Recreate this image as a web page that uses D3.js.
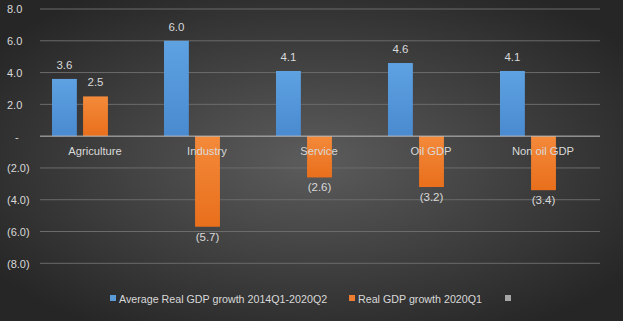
<!DOCTYPE html>
<html><head><meta charset="utf-8">
<script src="https://cdn.jsdelivr.net/npm/d3@7"></script>
<style>html,body{margin:0;padding:0;background:#333;}svg{display:block;}</style>
</head><body>
<script>
const categories = ["Agriculture","Industry","Service","Oil GDP","Non oil GDP"];
const avgGrowth = [3.6, 6.0, 4.1, 4.6, 4.1];
const growth2020Q1 = [2.5, -5.7, -2.6, -3.2, -3.4];
const emptySeries = [null, null, null, null, null];
const seriesNames = ["Average Real GDP growth 2014Q1-2020Q2", "Real GDP growth 2020Q1", ""];
const tickValues = [8, 6, 4, 2, 0, -2, -4, -6, -8];

const W = 623, H = 321;
const FONT = "'Liberation Sans', Arial, sans-serif";
const svg = d3.select("body").append("svg").attr("width", W).attr("height", H);
const defs = svg.append("defs");
const bg = defs.append("radialGradient").attr("id","bg").attr("cx","50%").attr("cy","50%").attr("r","62%");
bg.append("stop").attr("offset","0%").attr("stop-color","#5c5c5c");
bg.append("stop").attr("offset","100%").attr("stop-color","#262626");
const gb = defs.append("linearGradient").attr("id","gBlue").attr("x1","0").attr("x2","0").attr("y1","0").attr("y2","1");
gb.append("stop").attr("offset","0%").attr("stop-color","#5ea2e2");
gb.append("stop").attr("offset","100%").attr("stop-color","#4a8ad0");
const go = defs.append("linearGradient").attr("id","gOrange").attr("x1","0").attr("x2","0").attr("y1","0").attr("y2","1");
go.append("stop").attr("offset","0%").attr("stop-color","#f38a3a");
go.append("stop").attr("offset","100%").attr("stop-color","#e96f1c");

svg.append("rect").attr("width",W).attr("height",H).attr("fill","url(#bg)");

const x0 = d3.scaleBand().domain(categories).range([40, 600]).paddingInner(0).paddingOuter(0);
const seriesIdx = [0,1,2];
const x1 = d3.scaleBand().domain(seriesIdx).range([12, 99]).paddingInner(0.2).paddingOuter(0);
const y = d3.scaleLinear().domain([-8, 8]).range([263.3, 9]);

// gridlines
svg.append("g").selectAll("line").data(tickValues.filter(d=>d!==0)).join("line")
  .attr("x1",40).attr("x2",600).attr("y1",d=>y(d)).attr("y2",d=>y(d))
  .attr("stroke","#6b6b6b").attr("stroke-width",1);

const fmt = v => v === 0 ? "-" : (v < 0 ? "(" + Math.abs(v).toFixed(1) + ")" : v.toFixed(1));

// y axis labels
const yAxis = d3.axisLeft(y).tickValues(tickValues).tickFormat(fmt).tickSize(0);
const ya = svg.append("g").attr("transform","translate(7,0)").call(yAxis);
ya.select(".domain").remove();
ya.selectAll("text").attr("text-anchor","start").attr("x",0).attr("dy","0.35em")
  .attr("fill","#d9d9d9").style("font-family",FONT).style("font-size","11px");
ya.selectAll("text").filter(d=>d===0).attr("x",8);

const series = [avgGrowth, growth2020Q1, emptySeries];
const fills = ["url(#gBlue)","url(#gOrange)","#a6a6a6"];
const groups = svg.append("g").selectAll("g").data(categories).join("g")
  .attr("transform", d => `translate(${x0(d)},0)`);

groups.each(function(cat, ci){
  const g = d3.select(this);
  series.forEach((s, si) => {
    const v = s[ci];
    if (v === null) return;
    g.append("rect").attr("x", x1(si)).attr("width", x1.bandwidth())
      .attr("y", y(Math.max(0,v))).attr("height", Math.abs(y(v)-y(0)))
      .attr("fill", fills[si]);
    g.append("text").attr("x", x1(si)+x1.bandwidth()/2)
      .attr("y", v >= 0 ? y(v)-10 : y(v)+14)
      .attr("text-anchor","middle").attr("fill","#d9d9d9")
      .style("font-family",FONT).style("font-size","11.5px")
      .text(fmt(v));
  });
});

// zero line
svg.append("line").attr("x1",40).attr("x2",600).attr("y1",y(0)).attr("y2",y(0))
  .attr("stroke","#bfbfbf").attr("stroke-width",1);

// category labels
svg.append("g").selectAll("text").data(categories).join("text")
  .attr("x", d => x0(d) + x0.bandwidth()/2 - 1).attr("y", 155)
  .attr("text-anchor","middle").attr("fill","#d9d9d9")
  .style("font-family",FONT).style("font-size","11.2px")
  .text(d=>d);

// legend
const legendX = [110, 349, 505];
const lcol = ["#5b9bd5","#ed7d31","#a6a6a6"];
const lg = svg.append("g").selectAll("g").data(seriesNames).join("g")
  .attr("transform",(d,i)=>`translate(${legendX[i]},299)`);
lg.append("rect").attr("x",0).attr("y",-4).attr("width",6).attr("height",6).attr("fill",(d,i)=>lcol[i]);
lg.append("text").attr("x",9).attr("y",0).attr("dy","0.35em").attr("fill","#d9d9d9")
  .style("font-family",FONT).style("font-size","10.7px").text(d=>d);
</script>
</body></html>
